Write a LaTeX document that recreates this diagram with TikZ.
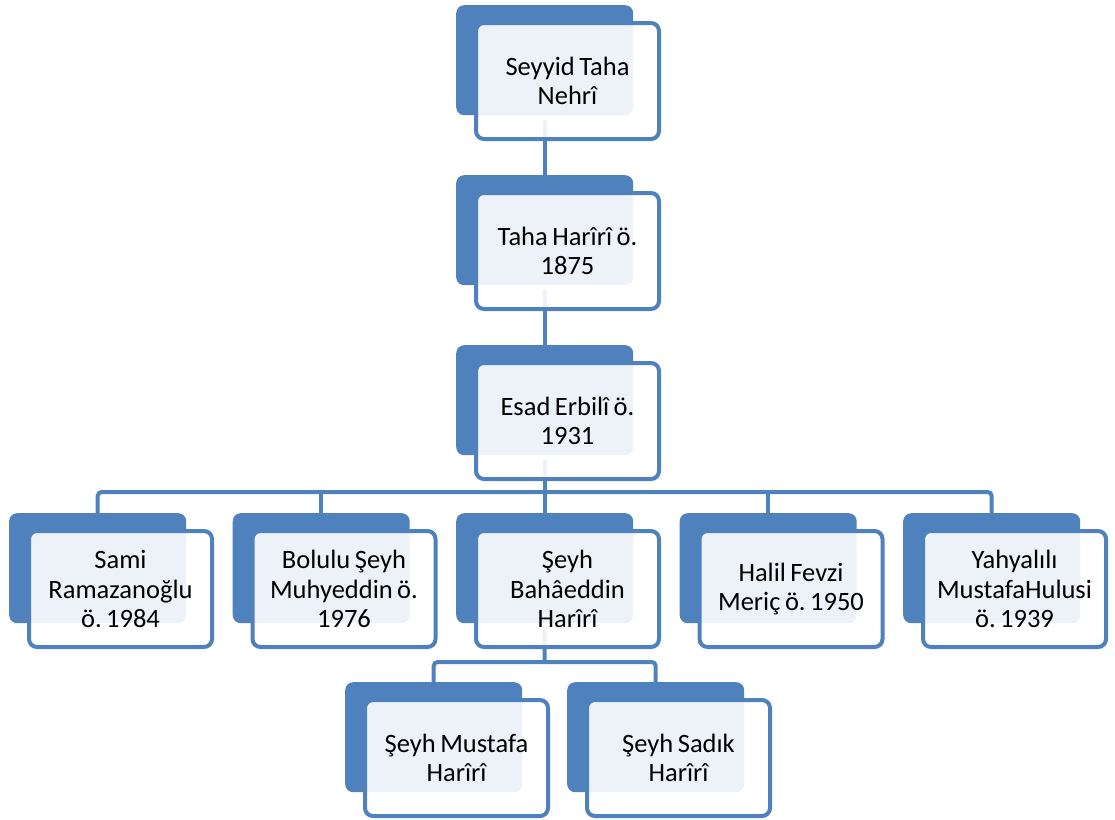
\documentclass[tikz,border=0pt]{standalone}
\usepackage{fontspec}
\setmainfont{Carlito}
\usetikzlibrary{backgrounds,calc}
\definecolor{acc}{RGB}{79,129,189}
\newcommand{\tightspace}{\spaceskip=0.17em\relax}
\tikzset{
  backbox/.style={rectangle, rounded corners=8pt, fill=acc, draw=none, minimum width=177pt, minimum height=110pt, inner sep=0pt, anchor=north west},
  frontbox/.style={rectangle, rounded corners=8pt, draw=acc, line width=4pt, fill=white, fill opacity=0.9, text opacity=1, minimum width=183pt, minimum height=116pt, inner sep=0pt, anchor=north west, align=center, text width=178pt, font=\fontsize{26.5}{29.5}\selectfont\frenchspacing, execute at begin node=\tightspace},
  conn/.style={draw=acc, line width=4pt, rounded corners=4pt}
}
\begin{document}
\begin{tikzpicture}[x=1pt,y=-1pt]
\useasboundingbox (0,0) rectangle (1115,819);
% level 1-3
\node[backbox] (b1) at (456,5) {};
\node[frontbox] (f1) at (474,21) {Seyyid Taha\\Nehrî};
\node[backbox] (b2) at (456,175) {};
\node[frontbox] (f2) at (474,191) {Taha Harîrî ö.\\1875};
\node[backbox] (b3) at (456,345) {};
\node[frontbox] (f3) at (474,361) {Esad Erbilî ö.\\1931};
% level 4
\node[backbox] (b4a) at (9,513) {};
\node[frontbox] (f4a) at (27,529) {Sami\\Ramazanoğlu\\ö. 1984};
\node[backbox] (b4b) at (232.5,513) {};
\node[frontbox] (f4b) at (250.5,529) {Bolulu Şeyh\\Muhyeddin ö.\\1976};
\node[backbox] (b4c) at (456,513) {};
\node[frontbox] (f4c) at (474,529) {Şeyh\\Bahâeddin\\Harîrî};
\node[backbox] (b4d) at (679.5,513) {};
\node[frontbox] (f4d) at (697.5,529) {Halil Fevzi\\Meriç ö. 1950};
\node[backbox] (b4e) at (903,513) {};
\node[frontbox] (f4e) at (921,529) {Yahyalılı\\MustafaHulusi\\ö. 1939};
% level 5
\node[backbox] (b5a) at (345,682) {};
\node[frontbox] (f5a) at (363,698) {Şeyh Mustafa\\Harîrî};
\node[backbox] (b5b) at (567,682) {};
\node[frontbox] (f5b) at (585,698) {Şeyh Sadık\\Harîrî};
\coordinate (j4) at (544.5,492);
\coordinate (j5) at (544.5,662);
\begin{pgfonlayer}{background}
\draw[conn] ([yshift=-5pt]b1.south) -- (b2.north);
\draw[conn] ([yshift=-5pt]b2.south) -- (b3.north);
\draw[conn] ([yshift=-5pt]b3.south) -- (b4c.north);
\draw[conn] (b4a.north) -- (b4a.north |- j4) -- (b4e.north |- j4) -- (b4e.north);
\draw[conn] (b4b.north) -- (b4b.north |- j4);
\draw[conn] (b4d.north) -- (b4d.north |- j4);
\draw[conn] ([yshift=-5pt]b4c.south) -- (j5);
\draw[conn] (b5a.north) -- (b5a.north |- j5) -- (b5b.north |- j5) -- (b5b.north);
\end{pgfonlayer}
\end{tikzpicture}
\end{document}
